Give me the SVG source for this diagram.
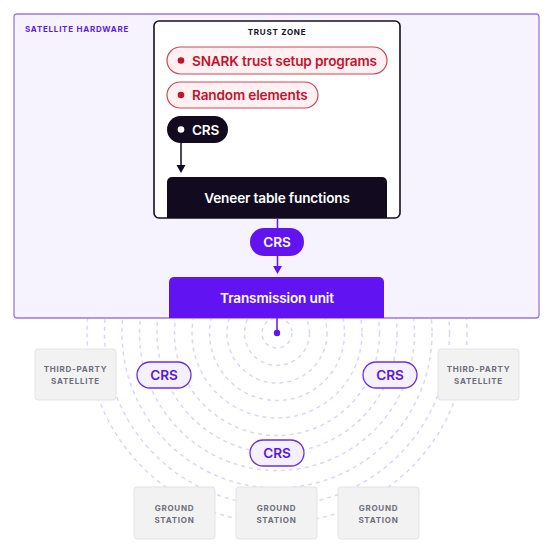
<svg xmlns="http://www.w3.org/2000/svg" width="548" height="549" viewBox="0 0 548 549">
<defs>
<style>
.t{font-family:Inter,"Noto Sans","Liberation Sans",sans-serif;}
.lbl{font-size:13.6px;font-weight:600;letter-spacing:-0.15px;}
.cap{font-size:8px;font-weight:700;letter-spacing:0.75px;}
.ring{fill:none;stroke:#dcd6f6;stroke-width:1.5;stroke-dasharray:4 4;}
.gray{fill:#f2f2f3;stroke:#e3e3e6;stroke-width:1;}
.graytxt{fill:#6e6e78;text-anchor:middle;}
.crsl{fill:#f5f0ff;stroke:#6a2fe2;stroke-width:1.3;}
.crsltxt{fill:#5a17e0;text-anchor:middle;}
</style>
</defs>
<rect width="548" height="549" fill="#ffffff"/>
<g id="rings">
<circle class="ring" cx="277" cy="333" r="15"/>
<circle class="ring" cx="277" cy="333" r="32.5"/>
<circle class="ring" cx="277" cy="333" r="50"/>
<circle class="ring" cx="277" cy="333" r="67.5"/>
<circle class="ring" cx="277" cy="333" r="85"/>
<circle class="ring" cx="277" cy="333" r="102.5"/>
<circle class="ring" cx="277" cy="333" r="120"/>
<circle class="ring" cx="277" cy="333" r="137.5"/>
<circle class="ring" cx="277" cy="333" r="155"/>
<circle class="ring" cx="277" cy="333" r="172.5"/>
<circle class="ring" cx="277" cy="333" r="190"/>
</g>
<g id="satellite-hardware">
<rect x="14" y="14" width="525" height="304" rx="3" fill="#f6f3fe" stroke="#9a78e6" stroke-width="1.3"/>
<text class="t cap" x="25" y="32" fill="#5a1ee0">SATELLITE HARDWARE</text>
</g>
<g id="trust-zone">
<rect x="154" y="21" width="246" height="197" rx="5" fill="#ffffff" stroke="#15101f" stroke-width="1.6"/>
<text class="t cap" x="277" y="35" fill="#15101f" text-anchor="middle">TRUST ZONE</text>
</g>
<g id="snark">
<rect x="167" y="47" width="220" height="27" rx="13.5" fill="#fff0f2" stroke="#c9485a" stroke-width="1.2"/>
<circle cx="181" cy="60.5" r="3.3" fill="#c4122f"/>
<text class="t lbl" x="192" y="65.5" fill="#c4122f">SNARK trust setup programs</text>
</g>
<g id="random">
<rect x="167" y="82" width="151" height="26" rx="13" fill="#fff0f2" stroke="#c9485a" stroke-width="1.2"/>
<circle cx="181" cy="95" r="3.3" fill="#c4122f"/>
<text class="t lbl" x="192" y="100" fill="#c4122f">Random elements</text>
</g>
<g id="crs-dark">
<rect x="167" y="116" width="61" height="27" rx="13.5" fill="#120b1f"/>
<circle cx="181" cy="129.5" r="3.3" fill="#ffffff"/>
<text class="t lbl" x="192" y="134.5" fill="#ffffff">CRS</text>
</g>
<g id="veneer">
<path d="M167 218 V182 a5 5 0 0 1 5 -5 H382 a5 5 0 0 1 5 5 V218 Z" fill="#120b1f"/>
<text class="t lbl" x="277" y="203" fill="#ffffff" text-anchor="middle">Veneer table functions</text>
</g>
<g id="crs-purple">
<rect x="250" y="228" width="54" height="28" rx="14" fill="#6214f0"/>
<text class="t lbl" x="277" y="247" fill="#ffffff" text-anchor="middle">CRS</text>
</g>
<g id="transmission">
<path d="M169 318 V282 a5 5 0 0 1 5 -5 H379 a5 5 0 0 1 5 5 V318 Z" fill="#6113f2"/>
<text class="t lbl" x="277" y="303" fill="#ffffff" text-anchor="middle">Transmission unit</text>
</g>
<g id="connectors">
<line x1="181" y1="143" x2="181" y2="166" stroke="#120b1f" stroke-width="1.5"/>
<polygon points="176.5,165 185.5,165 181,173" fill="#120b1f"/>
<line x1="277.5" y1="218" x2="277.5" y2="228" stroke="#6214f0" stroke-width="1.5"/>
<line x1="277.5" y1="256" x2="277.5" y2="267" stroke="#6214f0" stroke-width="1.5"/>
<polygon points="273,266 282,266 277.5,274" fill="#6214f0"/>
<line x1="277" y1="318" x2="277" y2="333" stroke="#6214f0" stroke-width="1.5"/>
<circle cx="277" cy="333" r="3.2" fill="#6214f0"/>
</g>
<g id="third-party-left">
<rect class="gray" x="35" y="349" width="81" height="51" rx="3"/>
<text class="t cap graytxt" x="75.5" y="372">THIRD-PARTY</text>
<text class="t cap graytxt" x="75.5" y="384">SATELLITE</text>
</g>
<g id="third-party-right">
<rect class="gray" x="438" y="349" width="81" height="51" rx="3"/>
<text class="t cap graytxt" x="478.5" y="372">THIRD-PARTY</text>
<text class="t cap graytxt" x="478.5" y="384">SATELLITE</text>
</g>
<g id="crs-left">
<rect class="crsl" x="137" y="362" width="54" height="26" rx="13"/>
<text class="t lbl crsltxt" x="164" y="380">CRS</text>
</g>
<g id="crs-right">
<rect class="crsl" x="363" y="362" width="54" height="26" rx="13"/>
<text class="t lbl crsltxt" x="390" y="380">CRS</text>
</g>
<g id="crs-bottom">
<rect class="crsl" x="250" y="440" width="54" height="26" rx="13"/>
<text class="t lbl crsltxt" x="277" y="458">CRS</text>
</g>
<g id="ground-left">
<rect class="gray" x="134" y="487" width="81" height="52" rx="3"/>
<text class="t cap graytxt" x="174.5" y="511">GROUND</text>
<text class="t cap graytxt" x="174.5" y="523">STATION</text>
</g>
<g id="ground-middle">
<rect class="gray" x="236" y="487" width="81" height="52" rx="3"/>
<text class="t cap graytxt" x="276.5" y="511">GROUND</text>
<text class="t cap graytxt" x="276.5" y="523">STATION</text>
</g>
<g id="ground-right">
<rect class="gray" x="338" y="487" width="81" height="52" rx="3"/>
<text class="t cap graytxt" x="378.5" y="511">GROUND</text>
<text class="t cap graytxt" x="378.5" y="523">STATION</text>
</g>
</svg>
